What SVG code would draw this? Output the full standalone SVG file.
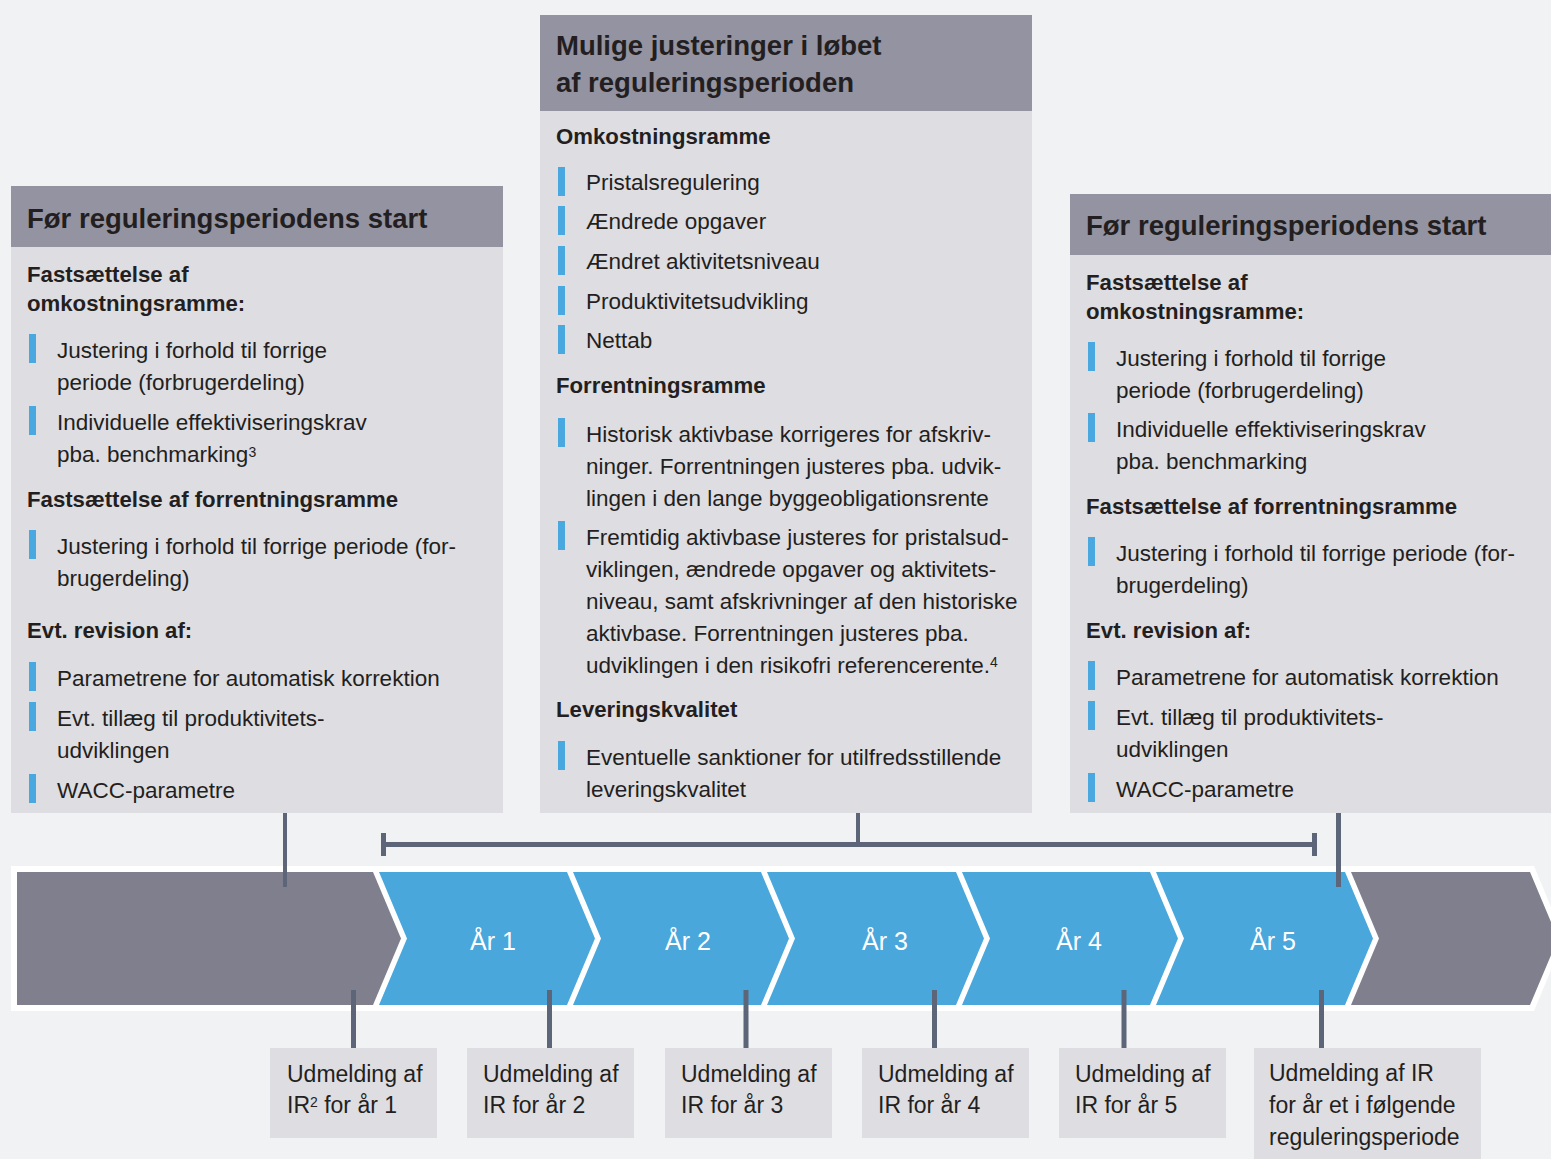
<svg xmlns="http://www.w3.org/2000/svg" width="1551" height="1159" viewBox="0 0 1551 1159">
<style>
text{font-family:"Liberation Sans",Arial,sans-serif;fill:#231f20}
.t{font-size:22.5px}
.b{font-size:22.2px;font-weight:bold}
.h{font-size:27.5px;font-weight:bold}
.y{font-size:25px;fill:#ffffff;text-anchor:middle}
.s{font-size:23px}
.sup{font-size:14px}
.body{fill:#dedde2}
.head{fill:#9493a1}
.bar{fill:#48a8df}
.gray{fill:#7f7f8e}
.blue{fill:#49a7dc}
.ln{stroke:#5d6578;fill:none}
</style>
<defs>
<rect id="bar" class="bar" width="7" height="29"/>
</defs>
<rect width="1551" height="1159" fill="#f1f2f4"/>

<g id="box-left">
<rect class="body" x="11" y="186" width="492" height="627"/>
<rect class="head" x="11" y="186" width="492" height="61"/>
<text class="h" x="27" y="228">Før reguleringsperiodens start</text>
<text class="b" x="27" y="282">Fastsættelse af</text>
<text class="b" x="27" y="311">omkostningsramme:</text>
<use href="#bar" x="29" y="334"/>
<text class="t" x="57" y="358">Justering i forhold til forrige</text>
<text class="t" x="57" y="390">periode (forbrugerdeling)</text>
<use href="#bar" x="29" y="406"/>
<text class="t" x="57" y="430">Individuelle effektiviseringskrav</text>
<text class="t" x="57" y="462">pba. benchmarking<tspan class="sup" dy="-5">3</tspan></text>
<text class="b" x="27" y="507">Fastsættelse af forrentningsramme</text>
<use href="#bar" x="29" y="530"/>
<text class="t" x="57" y="554">Justering i forhold til forrige periode (for-</text>
<text class="t" x="57" y="586">brugerdeling)</text>
<text class="b" x="27" y="638">Evt. revision af:</text>
<use href="#bar" x="29" y="662"/>
<text class="t" x="57" y="686">Parametrene for automatisk korrektion</text>
<use href="#bar" x="29" y="702"/>
<text class="t" x="57" y="726">Evt. tillæg til produktivitets-</text>
<text class="t" x="57" y="758">udviklingen</text>
<use href="#bar" x="29" y="774"/>
<text class="t" x="57" y="798">WACC-parametre</text>
</g>

<g id="box-middle">
<rect class="body" x="540" y="15" width="492" height="798"/>
<rect class="head" x="540" y="15" width="492" height="96"/>
<text class="h" x="556" y="55">Mulige justeringer i løbet</text>
<text class="h" x="556" y="92">af reguleringsperioden</text>
<text class="b" x="556" y="144">Omkostningsramme</text>
<use href="#bar" x="558" y="167"/>
<text class="t" x="586" y="190">Pristalsregulering</text>
<use href="#bar" x="558" y="206"/>
<text class="t" x="586" y="229">Ændrede opgaver</text>
<use href="#bar" x="558" y="246"/>
<text class="t" x="586" y="269">Ændret aktivitetsniveau</text>
<use href="#bar" x="558" y="286"/>
<text class="t" x="586" y="309">Produktivitetsudvikling</text>
<use href="#bar" x="558" y="325"/>
<text class="t" x="586" y="348">Nettab</text>
<text class="b" x="556" y="393">Forrentningsramme</text>
<use href="#bar" x="558" y="418"/>
<text class="t" x="586" y="442">Historisk aktivbase korrigeres for afskriv-</text>
<text class="t" x="586" y="474">ninger. Forrentningen justeres pba. udvik-</text>
<text class="t" x="586" y="506">lingen i den lange byggeobligationsrente</text>
<use href="#bar" x="558" y="521"/>
<text class="t" x="586" y="545">Fremtidig aktivbase justeres for pristalsud-</text>
<text class="t" x="586" y="577">viklingen, ændrede opgaver og aktivitets-</text>
<text class="t" x="586" y="609">niveau, samt afskrivninger af den historiske</text>
<text class="t" x="586" y="641">aktivbase. Forrentningen justeres pba.</text>
<text class="t" x="586" y="673">udviklingen i den risikofri referencerente.<tspan class="sup" dy="-6">4</tspan></text>
<text class="b" x="556" y="717">Leveringskvalitet</text>
<use href="#bar" x="558" y="741"/>
<text class="t" x="586" y="765">Eventuelle sanktioner for utilfredsstillende</text>
<text class="t" x="586" y="797">leveringskvalitet</text>
</g>

<g id="box-right">
<rect class="body" x="1070" y="194" width="481" height="619"/>
<rect class="head" x="1070" y="194" width="481" height="61"/>
<text class="h" x="1086" y="235">Før reguleringsperiodens start</text>
<text class="b" x="1086" y="290">Fastsættelse af</text>
<text class="b" x="1086" y="319">omkostningsramme:</text>
<use href="#bar" x="1088" y="342"/>
<text class="t" x="1116" y="366">Justering i forhold til forrige</text>
<text class="t" x="1116" y="398">periode (forbrugerdeling)</text>
<use href="#bar" x="1088" y="413"/>
<text class="t" x="1116" y="437">Individuelle effektiviseringskrav</text>
<text class="t" x="1116" y="469">pba. benchmarking</text>
<text class="b" x="1086" y="514">Fastsættelse af forrentningsramme</text>
<use href="#bar" x="1088" y="537"/>
<text class="t" x="1116" y="561">Justering i forhold til forrige periode (for-</text>
<text class="t" x="1116" y="593">brugerdeling)</text>
<text class="b" x="1086" y="638">Evt. revision af:</text>
<use href="#bar" x="1088" y="661"/>
<text class="t" x="1116" y="685">Parametrene for automatisk korrektion</text>
<use href="#bar" x="1088" y="701"/>
<text class="t" x="1116" y="725">Evt. tillæg til produktivitets-</text>
<text class="t" x="1116" y="757">udviklingen</text>
<use href="#bar" x="1088" y="773"/>
<text class="t" x="1116" y="797">WACC-parametre</text>
</g>

<g id="timeline">
<polygon fill="#ffffff" points="11,866 1534,866 1564,938.5 1534,1011 11,1011"/>
<polygon class="gray" points="17,872 373,872 401,938.5 373,1005 17,1005"/>
<polygon class="blue" points="379,872 567,872 595,938.5 567,1005 379,1005 407,938.5"/>
<polygon class="blue" points="573,872 761,872 789,938.5 761,1005 573,1005 601,938.5"/>
<polygon class="blue" points="767,872 956,872 984,938.5 956,1005 767,1005 795,938.5"/>
<polygon class="blue" points="962,872 1150,872 1178,938.5 1150,1005 962,1005 990,938.5"/>
<polygon class="blue" points="1156,872 1345,872 1373,938.5 1345,1005 1156,1005 1184,938.5"/>
<polygon class="gray" points="1351,872 1530,872 1558,938.5 1530,1005 1351,1005 1379,938.5"/>
<text class="y" x="493" y="950">År 1</text>
<text class="y" x="688" y="950">År 2</text>
<text class="y" x="885" y="950">År 3</text>
<text class="y" x="1079" y="950">År 4</text>
<text class="y" x="1273" y="950">År 5</text>
</g>

<g id="connectors">
<line class="ln" stroke-width="4" x1="285" y1="813" x2="285" y2="887"/>
<line class="ln" stroke-width="4" x1="858" y1="813" x2="858" y2="845"/>
<line class="ln" stroke-width="5" x1="383" y1="844.5" x2="1315" y2="844.5"/>
<line class="ln" stroke-width="5" x1="383.5" y1="833" x2="383.5" y2="856"/>
<line class="ln" stroke-width="5" x1="1314.5" y1="833" x2="1314.5" y2="856"/>
<line class="ln" stroke-width="5" x1="1338.5" y1="813" x2="1338.5" y2="887"/>
<line class="ln" stroke-width="5" x1="353.5" y1="990" x2="353.5" y2="1048"/>
<line class="ln" stroke-width="5" x1="549.5" y1="990" x2="549.5" y2="1048"/>
<line class="ln" stroke-width="5" x1="746" y1="990" x2="746" y2="1048"/>
<line class="ln" stroke-width="5" x1="934.5" y1="990" x2="934.5" y2="1048"/>
<line class="ln" stroke-width="5" x1="1124" y1="990" x2="1124" y2="1048"/>
<line class="ln" stroke-width="5" x1="1321.5" y1="990" x2="1321.5" y2="1048"/>
</g>

<g id="ir-1">
<rect class="body" x="270" y="1048" width="167" height="90"/>
<text class="s" x="287" y="1082">Udmelding af</text>
<text class="s" x="287" y="1113">IR<tspan class="sup" dy="-6">2</tspan><tspan dy="6"> for år 1</tspan></text>
</g>
<g id="ir-2">
<rect class="body" x="467" y="1048" width="167" height="90"/>
<text class="s" x="483" y="1082">Udmelding af</text>
<text class="s" x="483" y="1113">IR for år 2</text>
</g>
<g id="ir-3">
<rect class="body" x="665" y="1048" width="167" height="90"/>
<text class="s" x="681" y="1082">Udmelding af</text>
<text class="s" x="681" y="1113">IR for år 3</text>
</g>
<g id="ir-4">
<rect class="body" x="862" y="1048" width="167" height="90"/>
<text class="s" x="878" y="1082">Udmelding af</text>
<text class="s" x="878" y="1113">IR for år 4</text>
</g>
<g id="ir-5">
<rect class="body" x="1059" y="1048" width="167" height="90"/>
<text class="s" x="1075" y="1082">Udmelding af</text>
<text class="s" x="1075" y="1113">IR for år 5</text>
</g>
<g id="ir-next">
<rect class="body" x="1254" y="1048" width="227" height="111"/>
<text class="s" x="1269" y="1081">Udmelding af IR</text>
<text class="s" x="1269" y="1113">for år et i følgende</text>
<text class="s" x="1269" y="1145">reguleringsperiode</text>
</g>
</svg>
